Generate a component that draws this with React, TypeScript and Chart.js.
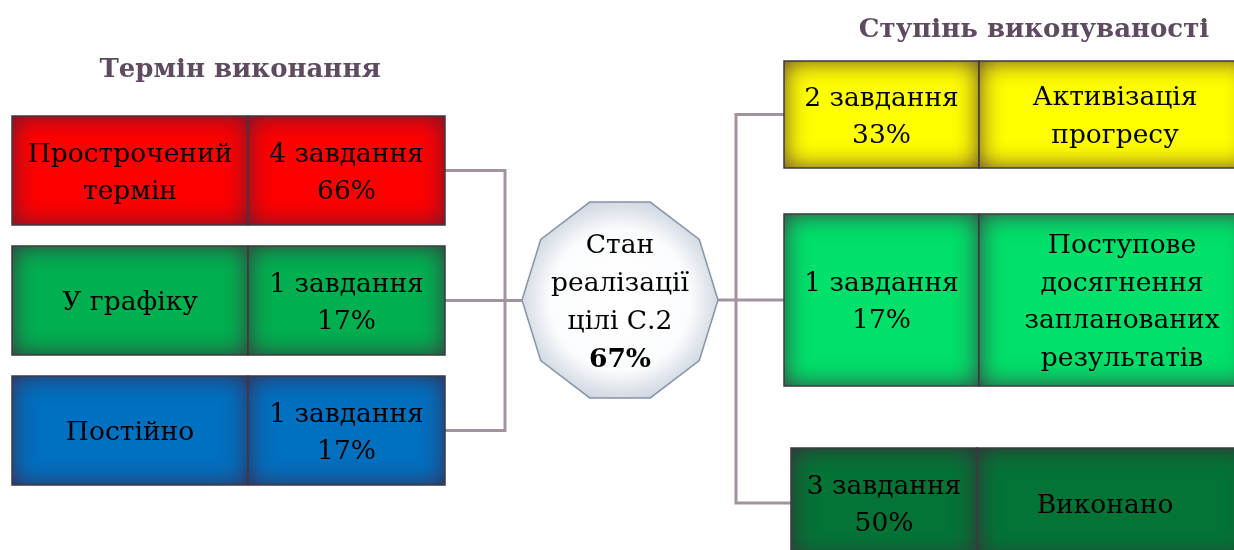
import React, { useEffect, useRef } from "react";
import { Chart, registerables } from "chart.js";

Chart.register(...registerables);

// ---------- data ----------
const leftTitle = "Термін виконання";
const rightTitle = "Ступінь виконуваності";
const leftCategories: string[][] = [["Прострочений", "термін"], ["У графіку"], ["Постійно"]];
const leftCounts = [4, 1, 1];
const leftPercents = [66, 17, 17];
const rightCategories: string[][] = [
  ["Активізація", "прогресу"],
  ["Поступове", "досягнення", "запланованих", "результатів"],
  ["Виконано"],
];
const rightCounts = [2, 1, 3];
const rightPercents = [33, 17, 50];
const centerLabel = ["Стан", "реалізації", "цілі С.2"];
const centerValue = 67;
const taskWord = "завдання";

// ---------- layout & style (not data) ----------
const W = 1234;
const H = 550;
const leftColors = ["#ff0000", "#00b050", "#0070c0"];
const rightColors = ["#ffff00", "#00e06a", "#037436"];
const leftLayout = {
  x0: 12, xDiv: 248, x1: 445,
  rows: [[116, 225], [246, 355], [376, 485]],
};
const rightLayout = [
  { x0: 784, xDiv: 979, x1: 1252, y0: 61, y1: 168, tx: 1115 },
  { x0: 784, xDiv: 979, x1: 1252, y0: 214, y1: 386, tx: 1122 },
  { x0: 791, xDiv: 977, x1: 1252, y0: 448, y1: 558, tx: 1105 },
];
const center = { cx: 620, cy: 300, rx: 98, ry: 103 };
const leftBusX = 505;
const rightBusX = 736;
const lineColor = "#a3939f";
const titleColor = "#5e4b5f";
const FONT = "'DejaVu Serif', serif";
const FS = 26.5;

const diagramPlugin = {
  id: "diagram",
  afterDraw(chart: any) {
    const ctx: CanvasRenderingContext2D = chart.ctx;
    const xs = chart.scales.x;
    const ys = chart.scales.y;
    const px = (v: number) => xs.getPixelForValue(v);
    const py = (v: number) => ys.getPixelForValue(v);

    const cell = (x0: number, y0: number, x1: number, y1: number, color: string) => {
      const X0 = px(x0), X1 = px(x1), Y0 = py(y0), Y1 = py(y1);
      ctx.save();
      ctx.beginPath();
      ctx.rect(X0, Y0, X1 - X0, Y1 - Y0);
      ctx.fillStyle = color;
      ctx.fill();
      ctx.clip();
      // inner glow
      ctx.beginPath();
      ctx.rect(X0 - 200, Y0 - 200, X1 - X0 + 400, Y1 - Y0 + 400);
      ctx.rect(X1, Y0, -(X1 - X0), Y1 - Y0);
      ctx.shadowColor = "rgba(70,30,60,0.85)";
      ctx.shadowBlur = 24;
      ctx.fillStyle = "rgba(0,0,0,1)";
      ctx.fill("evenodd");
      ctx.restore();
      ctx.save();
      ctx.strokeStyle = "#3d3a3e";
      ctx.lineWidth = 1.5;
      ctx.strokeRect(X0, Y0, X1 - X0, Y1 - Y0);
      ctx.restore();
    };

    const text = (lines: string[], cx: number, cy: number, lh: number, size: number, bold = false) => {
      ctx.save();
      ctx.fillStyle = "#000";
      ctx.textAlign = "center";
      ctx.textBaseline = "alphabetic";
      ctx.font = `${bold ? "bold " : ""}${size}px ${FONT}`;
      const n = lines.length;
      lines.forEach((l, i) => {
        const y = py(cy + (i - (n - 1) / 2) * lh) + size * 0.36;
        ctx.fillText(l, px(cx), y);
      });
      ctx.restore();
    };

    const line = (pts: number[][]) => {
      ctx.save();
      ctx.strokeStyle = lineColor;
      ctx.lineWidth = 3;
      ctx.lineJoin = "miter";
      ctx.beginPath();
      pts.forEach(([x, y], i) => (i ? ctx.lineTo(px(x), py(y)) : ctx.moveTo(px(x), py(y))));
      ctx.stroke();
      ctx.restore();
    };

    // connectors
    const lMid = leftLayout.rows.map(([a, b]) => (a + b) / 2);
    line([[leftLayout.x1, lMid[0]], [leftBusX, lMid[0]], [leftBusX, lMid[2]], [leftLayout.x1, lMid[2]]]);
    line([[leftLayout.x1, lMid[1]], [center.cx - center.rx, lMid[1]]]);
    const rMid = rightLayout.map((r) => (r.y0 + r.y1) / 2);
    line([[rightLayout[0].x0, rMid[0]], [rightBusX, rMid[0]], [rightBusX, rMid[2]], [rightLayout[2].x0, rMid[2]]]);
    line([[center.cx + center.rx, center.cy], [rightLayout[1].x0, rMid[1]]]);

    // titles
    ctx.save();
    ctx.fillStyle = titleColor;
    ctx.textAlign = "center";
    ctx.font = `bold 26px ${FONT}`;
    ctx.fillText(leftTitle, px(240), py(77));
    ctx.fillText(rightTitle, px(1034), py(37));
    ctx.restore();

    // left boxes
    leftCategories.forEach((cat, i) => {
      const [y0, y1] = leftLayout.rows[i];
      cell(leftLayout.x0, y0, leftLayout.xDiv, y1, leftColors[i]);
      cell(leftLayout.xDiv, y0, leftLayout.x1, y1, leftColors[i]);
      const cy = (y0 + y1) / 2;
      text(cat, (leftLayout.x0 + leftLayout.xDiv) / 2, cy, 37, FS);
      text([`${leftCounts[i]} ${taskWord}`, `${leftPercents[i]}%`], (leftLayout.xDiv + leftLayout.x1) / 2, cy, 37, FS);
    });

    // right boxes
    rightCategories.forEach((cat, i) => {
      const r = rightLayout[i];
      cell(r.x0, r.y0, r.xDiv, r.y1, rightColors[i]);
      cell(r.xDiv, r.y0, r.x1, r.y1, rightColors[i]);
      const cy = (r.y0 + r.y1) / 2;
      text([`${rightCounts[i]} ${taskWord}`, `${rightPercents[i]}%`], (r.x0 + r.xDiv) / 2, cy, 37, FS);
      text(cat, r.tx, cy, 37.5, FS);
    });

    // center decagon
    ctx.save();
    ctx.beginPath();
    for (let k = 0; k < 10; k++) {
      const a = (k * 36 * Math.PI) / 180;
      const x = px(center.cx + center.rx * Math.cos(a));
      const y = py(center.cy - center.ry * Math.sin(a));
      k ? ctx.lineTo(x, y) : ctx.moveTo(x, y);
    }
    ctx.closePath();
    const g = ctx.createRadialGradient(px(center.cx), py(center.cy), 10, px(center.cx), py(center.cy), 110);
    g.addColorStop(0, "#ffffff");
    g.addColorStop(0.6, "#fbfcfd");
    g.addColorStop(1, "#c4ccd9");
    ctx.fillStyle = g;
    ctx.fill();
    ctx.strokeStyle = "#8494a9";
    ctx.lineWidth = 1.5;
    ctx.stroke();
    ctx.restore();
    text(centerLabel, center.cx, center.cy - 19, 38, FS);
    text([`${centerValue}%`], center.cx, center.cy + 57, 38, FS, true);
  },
};

export default function App() {
  const ref = useRef<HTMLCanvasElement>(null);
  useEffect(() => {
    document.body.style.margin = "0";
    const chart = new Chart(ref.current!, {
      type: "scatter",
      data: { datasets: [{ data: [], pointRadius: 0 }] },
      options: {
        animation: false,
        responsive: false,
        events: [],
        layout: { padding: 0 },
        plugins: { legend: { display: false }, tooltip: { enabled: false }, title: { display: false } },
        scales: {
          x: { type: "linear", min: 0, max: W, display: false },
          y: { type: "linear", min: 0, max: H, reverse: true, display: false },
        },
      },
      plugins: [diagramPlugin],
    });
    return () => chart.destroy();
  }, []);
  return (
    <div style={{ width: W, height: H, background: "#fff" }}>
      <canvas ref={ref} width={W} height={H} style={{ display: "block" }} />
    </div>
  );
}
